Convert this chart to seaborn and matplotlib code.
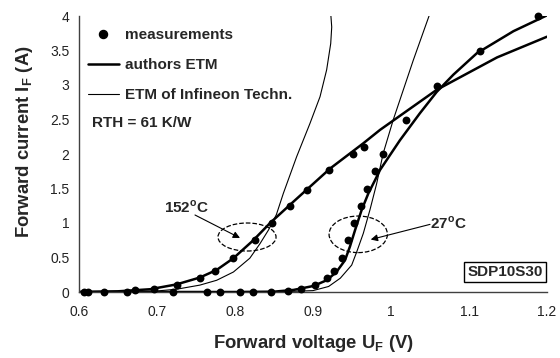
import matplotlib
matplotlib.use("Agg")
import matplotlib.pyplot as plt
from matplotlib.patches import Ellipse
from matplotlib.lines import Line2D
import seaborn as sns
import pandas as pd

# ---- data ----
meas152_v = [0.607, 0.611, 0.632, 0.662, 0.672, 0.696, 0.726, 0.755, 0.774, 0.798,
             0.825, 0.848, 0.871, 0.892, 0.921, 0.951, 0.966]
meas152_i = [0, 0, 0, 0, 0.03, 0.05, 0.10, 0.20, 0.31, 0.49,
             0.75, 1.00, 1.25, 1.48, 1.77, 2.00, 2.10]

meas27_v = [0.720, 0.764, 0.781, 0.806, 0.823, 0.846, 0.868, 0.885, 0.902, 0.918,
            0.927, 0.937, 0.945, 0.953, 0.961, 0.969, 0.980, 0.990, 1.019, 1.059,
            1.114, 1.189]
meas27_i = [0, 0, 0, 0, 0, 0, 0.02, 0.05, 0.10, 0.20,
            0.30, 0.49, 0.75, 1.00, 1.25, 1.49, 1.75, 2.00, 2.49, 2.99,
            3.50, 4.00]

auth152_v = [0.60, 0.65, 0.691, 0.725, 0.755, 0.7765, 0.798, 0.8235, 0.845, 0.875,
             0.922, 0.9645, 0.986, 1.0586, 1.136, 1.20]
auth152_i = [0, 0.01, 0.04, 0.11, 0.21, 0.32, 0.49, 0.75, 1.0, 1.31,
             1.79, 2.155, 2.35, 2.93, 3.40, 3.70]

auth27_v = [0.60, 0.80, 0.85, 0.875, 0.9004, 0.9175, 0.930, 0.941, 0.9474, 0.954,
            0.9624, 0.971, 0.9795, 0.986, 1.0115, 1.037, 1.0586, 1.08, 1.11, 1.157, 1.20]
auth27_i = [0, 0, 0.005, 0.03, 0.087, 0.17, 0.29, 0.46, 0.66, 0.90,
            1.19, 1.43, 1.62, 1.77, 2.20, 2.59, 2.90, 3.15, 3.46, 3.78, 4.01]

inf152_v = [0.60, 0.65, 0.70, 0.725, 0.755, 0.7765, 0.798, 0.819, 0.832, 0.843,
            0.853, 0.862, 0.879, 0.896, 0.909, 0.9175, 0.9227, 0.924, 0.9227]
inf152_i = [0, 0, 0.015, 0.04, 0.10, 0.17, 0.29, 0.49, 0.70, 0.90,
            1.12, 1.43, 1.96, 2.44, 2.83, 3.22, 3.60, 3.84, 4.04]

inf27_v = [0.60, 0.85, 0.90, 0.92, 0.935, 0.9496, 0.956, 0.9645, 0.973, 0.9816,
           0.990, 1.003, 1.0286, 1.05]
inf27_i = [0, 0, 0.02, 0.08, 0.20, 0.39, 0.58, 0.85, 1.19, 1.57,
           2.01, 2.50, 3.36, 4.04]

x_ticks = [0.6, 0.7, 0.8, 0.9, 1.0, 1.1, 1.2]
x_labels = ["0.6", "0.7", "0.8", "0.9", "1", "1.1", "1.2"]
y_ticks = [0, 0.5, 1, 1.5, 2, 2.5, 3, 3.5, 4]
y_labels = ["0", "0.5", "1", "1.5", "2", "2.5", "3", "3.5", "4"]

# ---- style ----
sns.set_style("white")
plt.rcParams["font.family"] = ["Liberation Sans", "DejaVu Sans"]
plt.rcParams["mathtext.fontset"] = "custom"
plt.rcParams["mathtext.rm"] = "Liberation Sans"
plt.rcParams["mathtext.bf"] = "Liberation Sans:bold"

fig = plt.figure(figsize=(5.6, 3.58), dpi=100)
ax = fig.add_axes([79 / 560, 66 / 358, 468 / 560, 276 / 358])

def curve(v, i, lw):
    df = pd.DataFrame({"v": v, "i": i})
    sns.lineplot(data=df, x="v", y="i", sort=False, estimator=None,
                 color="black", lw=lw, ax=ax, clip_on=True)

curve(auth152_v, auth152_i, 1.8)
curve(auth27_v, auth27_i, 1.8)
curve(inf152_v, inf152_i, 0.8)
curve(inf27_v, inf27_i, 0.8)

meas = pd.DataFrame({"v": meas152_v + meas27_v, "i": meas152_i + meas27_i})
sns.scatterplot(data=meas, x="v", y="i", color="black", s=32, edgecolor="black",
                linewidth=0, ax=ax, clip_on=False, zorder=5)

ax.set_xlim(0.6, 1.2)
ax.set_ylim(0, 4)
ax.set_xticks(x_ticks)
ax.set_xticklabels(x_labels)
ax.set_yticks(y_ticks)
ax.set_yticklabels(y_labels)
ax.tick_params(axis="both", direction="out", length=4, width=1, color="#404040",
               labelsize=10, pad=3, labelcolor="#222222")
ax.tick_params(axis="x", pad=5)
for s in ["top", "right"]:
    ax.spines[s].set_visible(False)
for s in ["left", "bottom"]:
    ax.spines[s].set_color("#404040")
    ax.spines[s].set_linewidth(1)
ax.set_xlabel("")
ax.set_ylabel("")

fig.text(313 / 560, 1 - 343 / 358, r"Forward voltage U$_\mathbf{F}$ (V)",
         ha="center", va="center", fontsize=13.3, fontweight="bold")
fig.text(25 / 560, 1 - 142 / 358, r"Forward current I$_\mathbf{F}$ (A)",
         ha="center", va="center", fontsize=13.3, fontweight="bold", rotation=90)

# legend
handles = [
    Line2D([], [], marker="o", color="black", ls="none", markersize=5.8),
    Line2D([], [], color="black", lw=1.8),
    Line2D([], [], color="black", lw=0.8),
]
ax.legend(handles, ["measurements", "authors ETM", "ETM of Infineon Techn."],
          loc="upper left", bbox_to_anchor=(88 / 560, 1 - 28 / 358),
          bbox_transform=fig.transFigure, frameon=False, borderpad=0,
          borderaxespad=0, handlelength=2.0, handletextpad=0.4,
          labelspacing=1.05, prop={"weight": "bold", "size": 11})

ax.text(0.6167, 2.45, "RTH = 61 K/W", ha="left", va="center",
        fontsize=11, fontweight="bold")

# annotations
ax.add_patch(Ellipse((0.8154, 0.797), 0.0744, 0.406, fill=False, ls="--",
                     lw=0.9, color="black"))
ax.add_patch(Ellipse((0.958, 0.836), 0.0748, 0.53, fill=False, ls="--",
                     lw=0.9, color="black"))
ax.annotate("", xy=(0.8064, 0.783), xytext=(0.7487, 1.116),
            arrowprops=dict(arrowstyle="-|>", color="black", lw=0.8,
                            mutation_scale=10, shrinkA=0, shrinkB=0))
ax.annotate("", xy=(0.974, 0.76), xytext=(1.05, 0.98),
            arrowprops=dict(arrowstyle="-|>", color="black", lw=0.8,
                            mutation_scale=10, shrinkA=0, shrinkB=0))
ax.text(0.7385, 1.23, r"152$^\mathbf{o}$C", ha="center", va="center",
        fontsize=11, fontweight="bold")
ax.text(1.0735, 1.0, r"27$^\mathbf{o}$C", ha="center", va="center",
        fontsize=11, fontweight="bold")

ax.text(1.146, 0.294, "SDP10S30", ha="center", va="center", fontsize=11,
        fontweight="bold",
        bbox=dict(boxstyle="square,pad=0.2", fc="white", ec="black", lw=1))

fig.savefig("out.png", dpi=100)
